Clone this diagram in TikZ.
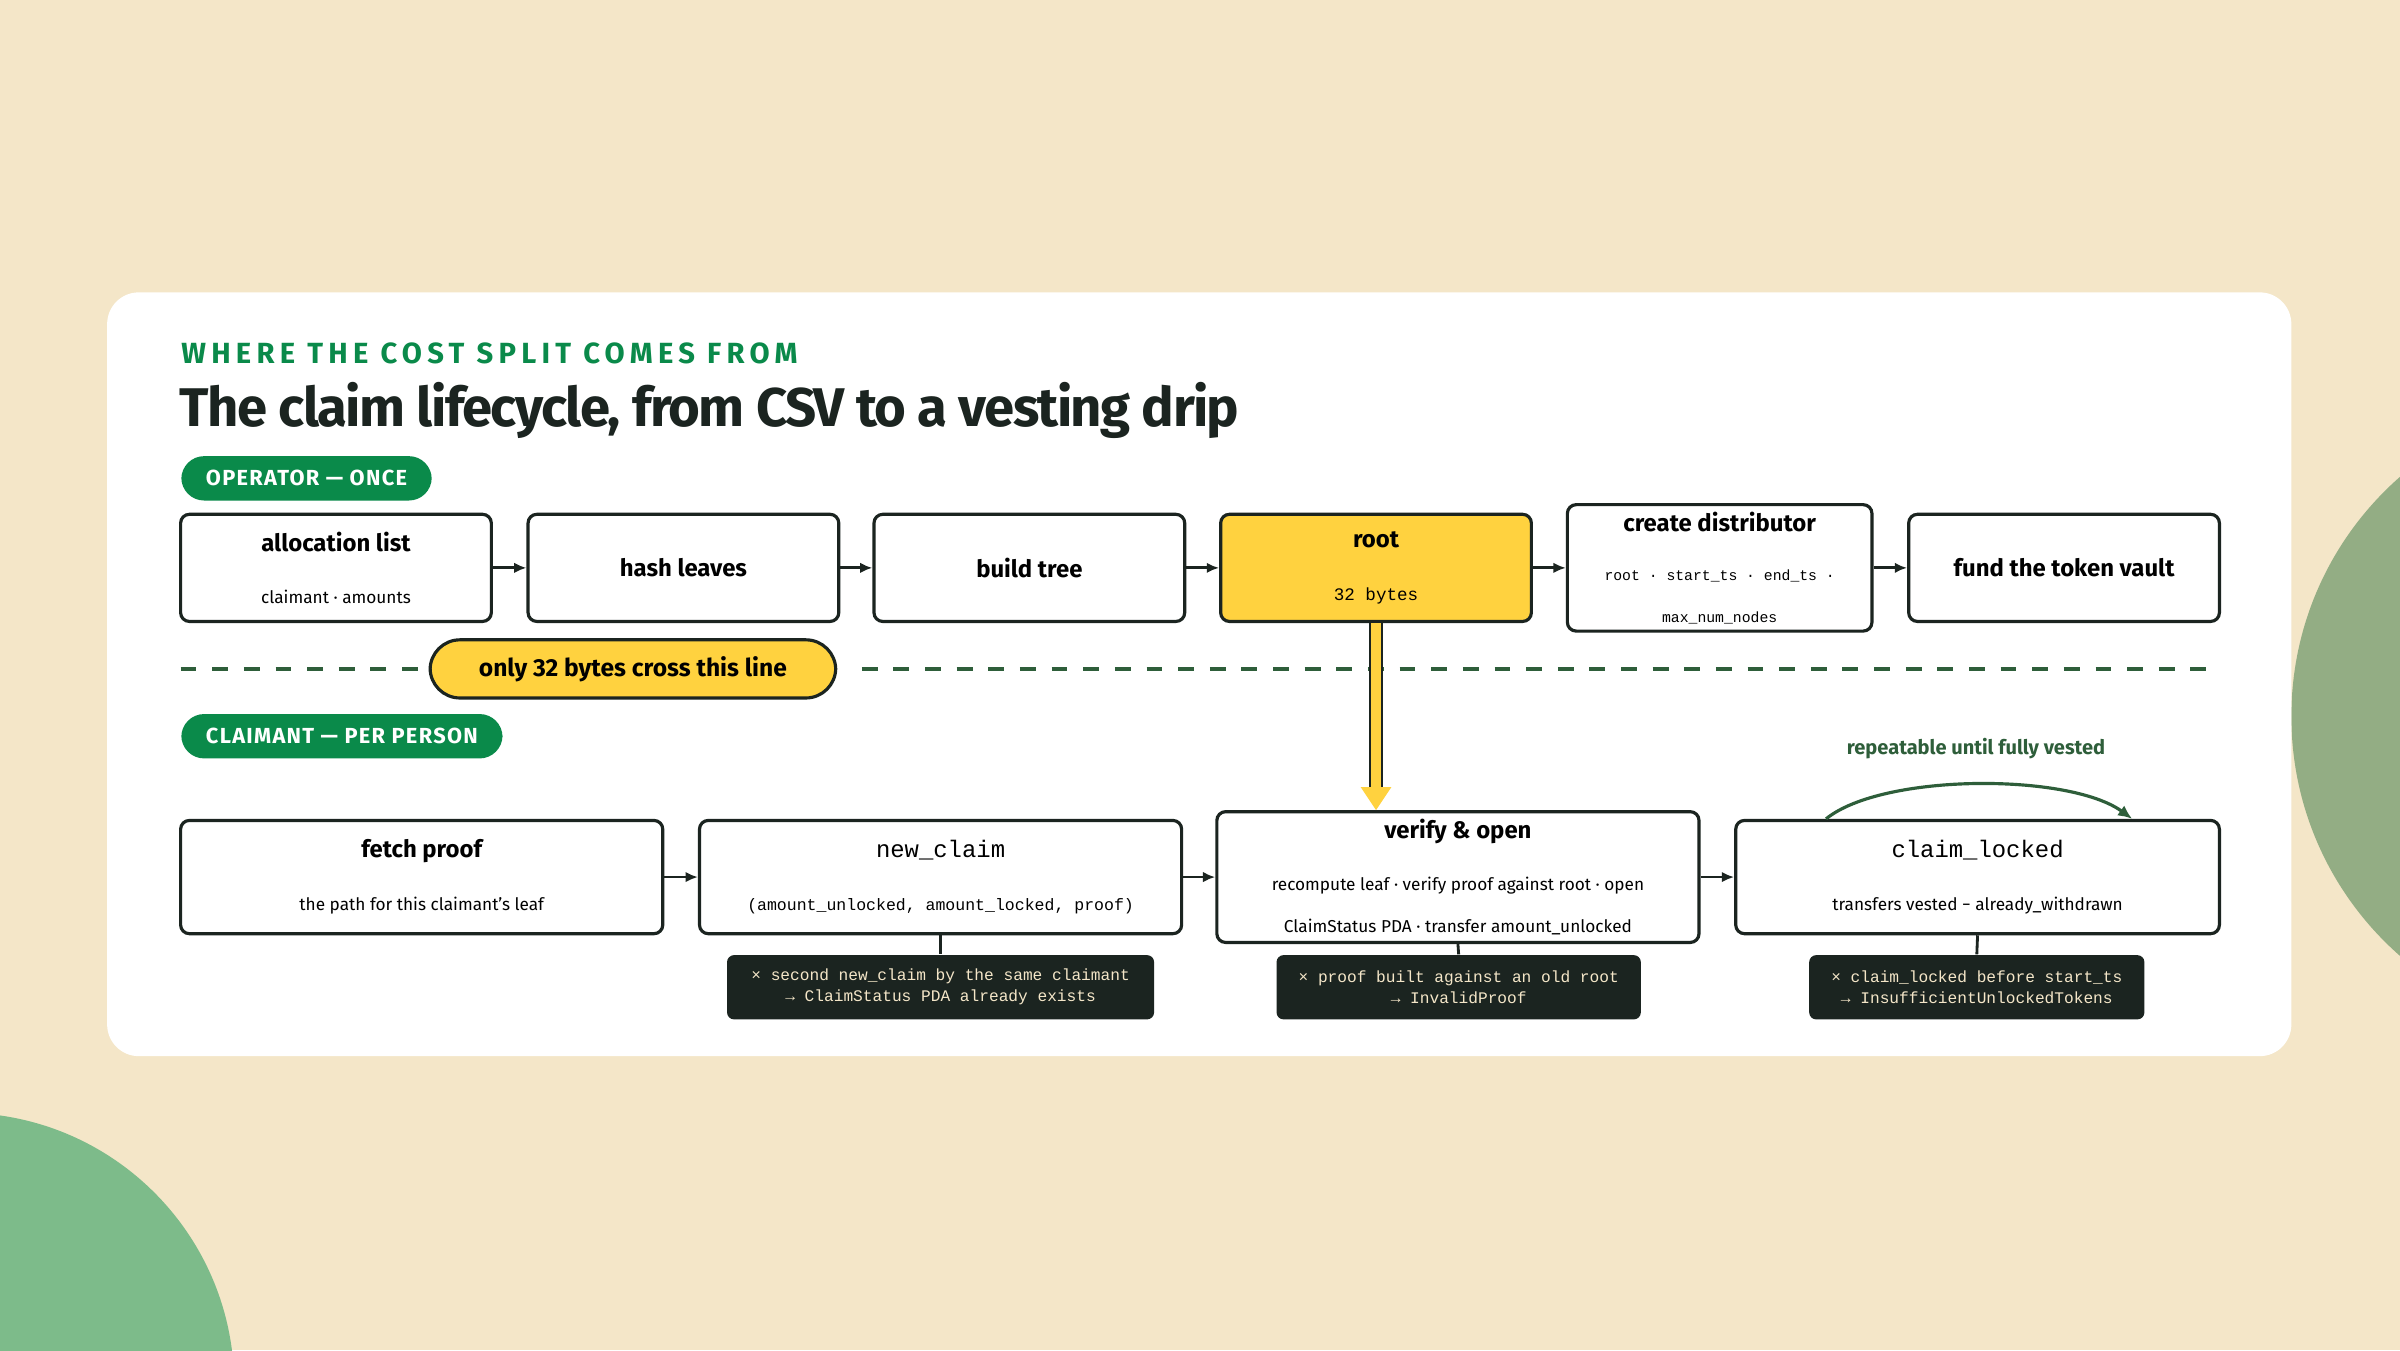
\documentclass[tikz,border=0pt]{standalone}
\usepackage{fontspec}
\setmainfont{Fira Sans}
\setmonofont{Liberation Mono}
\usetikzlibrary{arrows.meta,positioning,calc}
\definecolor{cream}{HTML}{F4E6C8}
\definecolor{inkdark}{HTML}{1B2420}
\definecolor{leafgreen}{HTML}{0A8A4A}
\definecolor{sagegreen}{HTML}{93AD84}
\definecolor{mintgreen}{HTML}{7DBB8A}
\definecolor{rootyellow}{HTML}{FFD23F}
\definecolor{linegreen}{HTML}{2E5E3A}
\newcommand\fsz[1]{\pgfmathsetmacro\fszb{#1*1.3}\fontsize{#1}{\fszb}\selectfont}
\tikzset{
  stagebox/.style={draw=inkdark, line width=0.9pt, rounded corners=2.5pt, fill=white,
    minimum height=70*0.015306cm, align=center, inner sep=2pt},
  errbox/.style={fill=inkdark, rounded corners=2pt, text=cream, align=center,
    font=\ttfamily\fsz{4.6}, minimum height=42*0.015306cm, inner sep=2pt},
  pill/.style={fill=leafgreen, text=white, rounded corners=6.5pt, font=\bfseries\fsz{6.2}\addfontfeature{LetterSpace=6},
    minimum height=29*0.015306cm, inner xsep=7pt},
  flow/.style={-{Latex[length=3.5pt,width=3pt]}, line width=0.8pt, inkdark},
}
\begin{document}
\begin{tikzpicture}[x=0.015306cm, y=-0.015306cm]
\useasboundingbox (0,0) rectangle (1568,882);
% backdrop
\fill[cream] (0,0) rectangle (1568,882);
\begin{scope}
\clip (0,0) rectangle (1568,882);
\fill[mintgreen] (-25,905) circle (178);
\fill[sagegreen] (1705,468) circle (208);
\end{scope}
\fill[white, rounded corners=9pt] (70,191) rectangle (1497,690);

% heading
\node[anchor=west, text=leafgreen, font=\bfseries\fsz{8.3}\addfontfeature{LetterSpace=18}, inner sep=0] (kicker) at (118,231) {WHERE THE COST SPLIT COMES FROM};
\node[anchor=west, text=inkdark, font=\bfseries\fsz{15.5}\addfontfeature{LetterSpace=-3}, inner sep=0] (title) at (117,268) {The claim lifecycle, from CSV to a vesting drip};

% operator row
\node[pill, anchor=west] (oplabel) at (118,312.5) {OPERATOR — ONCE};
\node[stagebox, minimum width=203*0.015306cm] (alloc) at (219.5,371) {{\bfseries\fsz{6.8}allocation list}\\[3pt]{\fsz{4.9}claimant · amounts}};
\node[stagebox, minimum width=203*0.015306cm] (hash) at (446.5,371) {\bfseries\fsz{6.8}hash leaves};
\node[stagebox, minimum width=203*0.015306cm] (tree) at (672.5,371) {\bfseries\fsz{6.8}build tree};
\node[stagebox, fill=rootyellow, minimum width=203*0.015306cm] (root) at (899,371) {{\bfseries\fsz{6.8}root}\\[3pt]{\ttfamily\fsz{5}32 bytes}};
\node[stagebox, minimum width=199*0.015306cm] (distr) at (1123.5,371) {{\bfseries\fsz{6.8}create distributor}\\[2pt]{\ttfamily\fsz{4.2}root · start\_ts · end\_ts ·}\\{\ttfamily\fsz{4.2}max\_num\_nodes}};
\node[stagebox, minimum width=203*0.015306cm] (vault) at (1348.5,371) {\bfseries\fsz{6.8}fund the token vault};
\foreach \a/\b in {alloc/hash, hash/tree, tree/root, root/distr, distr/vault}
  \draw[flow] (\a) -- (\b);

% trust boundary
\node[fill=rootyellow, draw=inkdark, line width=0.9pt, rounded corners=8.5pt, minimum width=265*0.015306cm, minimum height=38*0.015306cm, font=\bfseries\fsz{7}] (cross) at (413.5,437) {only 32 bytes cross this line};
\coordinate (lineL) at (118,437);
\coordinate (lineR) at (1450,437);
\draw[linegreen, line width=1.1pt, dash pattern=on 4.5pt off 4.5pt] (lineL) -- (cross.west);
\draw[linegreen, line width=1.1pt, dash pattern=on 4.5pt off 4.5pt] ($(cross.east)+(16,0)$) -- (lineR);

% claimant row
\node[pill, anchor=west] (cllabel) at (118,481) {CLAIMANT — PER PERSON};
\node[stagebox, minimum width=315*0.015306cm, minimum height=74*0.015306cm] (fetch) at (275.5,573) {{\bfseries\fsz{6.8}fetch proof}\\[3pt]{\fsz{4.9}the path for this claimant’s leaf}};
\node[stagebox, minimum width=315*0.015306cm, minimum height=74*0.015306cm] (newclaim) at (614.5,573) {{\ttfamily\fsz{6.8}new\_claim}\\[3pt]{\ttfamily\fsz{4.7}(amount\_unlocked, amount\_locked, proof)}};
\node[stagebox, minimum width=315*0.015306cm, minimum height=74*0.015306cm] (verify) at (952.5,573) {{\bfseries\fsz{6.8}verify \& open}\\[3pt]{\fsz{4.9}recompute leaf · verify proof against root · open}\\{\fsz{4.9}ClaimStatus PDA · transfer amount\_unlocked}};
\node[stagebox, minimum width=316*0.015306cm, minimum height=74*0.015306cm] (locked) at (1292,573) {{\ttfamily\fsz{6.8}claim\_locked}\\[3pt]{\fsz{4.9}transfers vested − already\_withdrawn}};
\foreach \a/\b in {fetch/newclaim, newclaim/verify, verify/locked}
  \draw[flow] (\a) -- (\b);

% root handed down
\coordinate (rootdrop) at (root.south |- verify.north);
\draw[inkdark, line width=4.2pt] (root.south) -- ($(rootdrop)+(0,-12)$);
\draw[rootyellow, line width=2.6pt] (root.south) -- ($(rootdrop)+(0,-12)$);
\fill[rootyellow] (rootdrop) -- ++(-10,-15) -- ++(20,0) -- cycle;

% repeat loop
\node[text=linegreen, font=\bfseries\fsz{5.7}] (repeat) at (1291,489) {repeatable until fully vested};
\draw[linegreen, line width=0.9pt, -{Latex[length=4pt,width=3.5pt]}] ($(locked.north)+(-99,0)$) .. controls (1230,505) and (1352,505) .. ($(locked.north)+(101,0)$);

% failure cases
\node[errbox, minimum width=279*0.015306cm] (err1) at (614.5,645) {× second new\_claim by the same claimant\\→ ClaimStatus PDA already exists};
\node[errbox, minimum width=238*0.015306cm] (err2) at (953,645) {× proof built against an old root\\→ InvalidProof};
\node[errbox, minimum width=219*0.015306cm] (err3) at (1291.5,645) {× claim\_locked before start\_ts\\→ InsufficientUnlockedTokens};
\foreach \a/\b in {newclaim/err1, verify/err2, locked/err3}
  \draw[inkdark, line width=0.8pt] (\a.south) -- (\b.north);
\end{tikzpicture}
\end{document}
